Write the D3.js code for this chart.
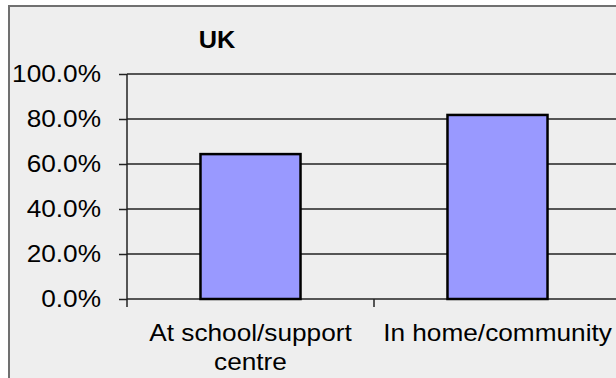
<!DOCTYPE html>
<html lang="en">
<head>
  <meta charset="UTF-8">
  <title>UK bar chart</title>
  <style>
  body { margin: 0; background: #fff; }
  #chart text {
      font-family: "Liberation Sans", Arial, sans-serif;
      font-size: 23px;
      fill: #000;
  }
  #chart .title { font-weight: bold; }
  #chart .axis path { display: none; }
  #chart .axis line, #chart .grid line { stroke: #222; stroke-width: 1.5px; }
  #chart rect.bar { fill: #9999ff; stroke: #000; stroke-width: 2.5px; }
  </style>
</head>
<body>
  <div id="chart"></div>
  <script src="https://d3js.org/d3.v7.min.js"></script>
  <script>
// data
var categories = ["At school/support centre", "In home/community"];
var labelLines = [["At school/support", "centre"], ["In home/community"]];
var values = [0.644, 0.818];
var yTicks = [0, 0.2, 0.4, 0.6, 0.8, 1.0];
var title = "UK";

var w = 616, h = 378;
var stretch = 1.14; // text in the picture is a bit wide

var svg = d3.select("#chart").append("svg")
    .attr("width", w)
    .attr("height", h);

// chart frame
svg.append("rect")
    .attr("x", 9).attr("y", 6)
    .attr("width", 700).attr("height", 500)
    .attr("fill", "#eeeeee")
    .attr("stroke", "#707070")
    .attr("stroke-width", 2);

var x = d3.scaleBand()
    .domain(categories)
    .range([127, 621])
    .padding(0);

var y = d3.scaleLinear()
    .domain([0, 1])
    .range([299, 74]);

// gridlines
svg.append("g")
    .attr("class", "grid")
    .selectAll("line")
    .data(yTicks)
    .enter().append("line")
    .attr("x1", 127).attr("x2", 621)
    .attr("y1", function(d) { return y(d); })
    .attr("y2", function(d) { return y(d); });

// y axis
var yAxis = d3.axisLeft(y)
    .tickValues(yTicks)
    .tickSize(8)
    .tickFormat(d3.format(".1%"));

var gy = svg.append("g")
    .attr("class", "axis")
    .attr("transform", "translate(127,0)")
    .call(yAxis);
gy.selectAll("text")
    .attr("x", 0)
    .attr("transform", "translate(-26,0) scale(" + stretch + ",1)");

// vertical axis line + category boundary ticks
svg.append("line")
    .attr("x1", 127).attr("x2", 127)
    .attr("y1", y(1)).attr("y2", y(0))
    .attr("stroke", "#222").attr("stroke-width", 1.5);

var bounds = categories.map(function(c) { return x(c); }).concat([x.range()[1]]);
svg.append("g")
    .attr("class", "axis")
    .selectAll("line")
    .data(bounds)
    .enter().append("line")
    .attr("x1", function(d) { return d; })
    .attr("x2", function(d) { return d; })
    .attr("y1", y(0))
    .attr("y2", y(0) + 8);

// bars
var barW = x.bandwidth() * 0.405;
svg.append("g")
    .selectAll("rect")
    .data(values)
    .enter().append("rect")
    .attr("class", "bar")
    .attr("x", function(d, i) { return x(categories[i]) + x.bandwidth() / 2 - barW / 2; })
    .attr("y", function(d) { return y(d); })
    .attr("width", barW)
    .attr("height", function(d) { return y(0) - y(d); });

// category labels
var lab = svg.append("g")
    .selectAll("text")
    .data(categories)
    .enter().append("text")
    .attr("text-anchor", "middle")
    .attr("transform", function(d) {
      return "translate(" + (x(d) + x.bandwidth() / 2) + "," + (y(0) + 42) + ") scale(" + stretch + ",1)";
    });
lab.each(function(d, i) {
  d3.select(this).selectAll("tspan")
    .data(labelLines[i])
    .enter().append("tspan")
    .attr("x", 0)
    .attr("y", function(t, j) { return j * 29; })
    .text(function(t) { return t; });
});

// title
svg.append("text")
    .attr("class", "title")
    .attr("text-anchor", "middle")
    .attr("transform", "translate(217,48) scale(1.1,1)")
    .text(title);
  </script>
</body>
</html>
